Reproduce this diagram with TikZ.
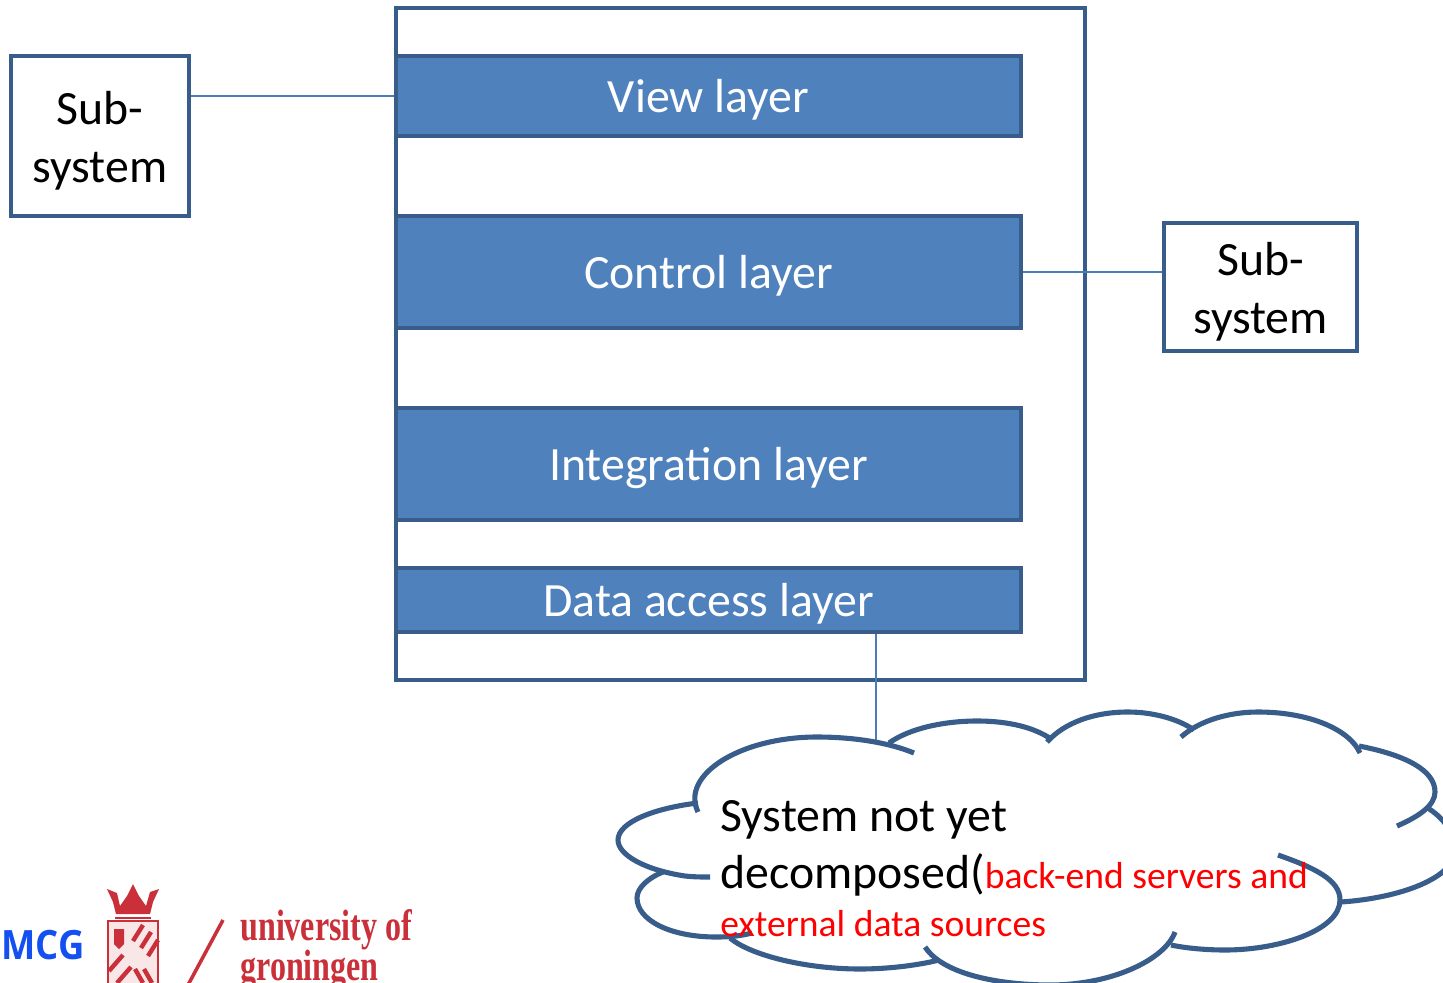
\documentclass[tikz,border=0pt]{standalone}
\usepackage{fontspec}
\setmainfont{Carlito}
\newfontfamily\logofont[FakeStretch=0.73]{Liberation Serif}
\newfontfamily\mcgfont[FakeStretch=0.9]{Open Sans}
\definecolor{layerfill}{HTML}{4F81BD}
\definecolor{layerline}{HTML}{385D8A}
\definecolor{thinline}{HTML}{4A7EBB}
\definecolor{rugred}{HTML}{C9303A}
\definecolor{mcgblue}{HTML}{1450F0}
\newcommand{\subtext}{\rule{0pt}{24.5pt}Sub-\\system}
\tikzset{
	layerbox/.style={draw=layerline,fill=layerfill,line width=2.3pt,text=white,minimum width=12.5cm,inner sep=0pt,text height=23pt,text depth=3.8pt,font=\fontsize{27.2}{30}\selectfont},
	subbox/.style={draw=layerline,line width=2.3pt,fill=white,inner sep=0pt,align=center,font=\fontsize{27.2}{33}\selectfont},
	link/.style={draw=thinline,line width=0.8pt},
	cloudline/.style={draw=layerline,line width=2.9pt},
	redpart/.style={rugred,line width=1pt},
	stripe/.style={rugred,line width=2.5pt}
}
\begin{document}
\begin{tikzpicture}[x=0.02cm,y=-0.02cm]

\clip (0,0) rectangle (1443,983);

\draw [draw=layerline,line width=2.3pt] (396,8) rectangle (1085,680);

\node [layerbox,minimum height=1.6cm] (view) at (708.5,96) {View layer};
\node [layerbox,minimum height=2.24cm] (control) at (708.5,272) {Control layer};
\node [layerbox,minimum height=2.24cm] (integration) at (708.5,464) {Integration layer};
\node [layerbox,minimum height=1.28cm] (data) at (708.5,600) {Data access layer};

\node [subbox,minimum width=3.56cm,minimum height=3.2cm] (subleft) at (100,136) {\subtext};
\node [subbox,minimum width=3.86cm,minimum height=2.56cm] (subright) at (1260.5,287) {\subtext};

\coordinate (cloudtop) at (876,741);
\draw [link] (view.west) -- (view.west -| subleft.east);
\draw [link] (control.east) -- (control.east -| subright.west);
\draw [link] (data.south -| cloudtop) -- (cloudtop);

% cloud
\draw [cloudline] (698,812) .. controls (680,775) and (740,737) .. (817,737) .. controls (855,737) and (890,743) .. (914,753);
\draw [cloudline] (889,743) .. controls (910,728) and (945,721) .. (977,721) .. controls (1010,721) and (1035,728) .. (1051,739);
\draw [cloudline] (1047,742) .. controls (1065,722) and (1095,712) .. (1128,712) .. controls (1155,712) and (1180,720) .. (1194,730);
\draw [cloudline] (1181,737) .. controls (1200,720) and (1230,712) .. (1258,712) .. controls (1310,712) and (1350,730) .. (1360,753);
\draw [cloudline] (1359,746) .. controls (1405,755) and (1435,770) .. (1435,792) .. controls (1435,805) and (1420,816) .. (1397,826);
\draw [cloudline] (1426,807) .. controls (1445,818) and (1455,835) .. (1455,850) .. controls (1455,878) and (1400,898) .. (1341,902);
\draw [cloudline] (1278,855) .. controls (1315,868) and (1340,880) .. (1340,900) .. controls (1340,930) and (1280,950) .. (1225,950) .. controls (1205,950) and (1185,948) .. (1171,945);
\draw [cloudline] (1175,932) .. controls (1165,960) and (1110,986) .. (1046,985) .. controls (985,984) and (940,970) .. (925,947);
\draw [cloudline] (939,960) .. controls (915,966) and (885,969) .. (860,969) .. controls (805,969) and (750,955) .. (730,938);
\draw [cloudline] (752,933) .. controls (740,936) and (730,937) .. (716,937) .. controls (670,937) and (637,920) .. (637,898) .. controls (637,888) and (648,878) .. (663,872);
\draw [cloudline] (710,877) .. controls (700,877) and (695,877) .. (685,876) .. controls (645,870) and (618,855) .. (618,840) .. controls (618,822) and (655,808) .. (698,803);

\node [inner sep=0pt,anchor=north west,align=left,font=\fontsize{27.2}{32.5}\selectfont] (cloudtext) at (720,800)
	{System not yet\\
	decomposed({\fontsize{21.4}{27}\selectfont\color{red}back-end servers and}\\[-5pt]
	{\fontsize{21.4}{27}\selectfont\color{red}external data sources}};

% logos
\node [inner sep=0pt,anchor=east,text=mcgblue,font=\mcgfont\bfseries\fontsize{23}{23}\selectfont] (umcg) at (85,945) {UMCG};
\node [inner sep=0pt,anchor=north west,align=left,text=rugred,font=\logofont\bfseries\fontsize{25}{23}\selectfont] (rug) at (240,909) {university of\\groningen};
\draw [rugred,line width=2pt] (223,920) -- (188,985);

% crest
\fill [rugred] (107,889) -- (117,893) -- (120,906) -- (127,896) -- (133,884) -- (139,896) -- (146,906) -- (150,892) -- (159,889) -- (153,902) -- (150,914) -- (116,914) -- (113,902) -- cycle;
\draw [rugred,line width=1.5pt] (115,918) -- (151,918);
\fill [rugred!12] (108,921) rectangle (158,983);
\draw [redpart] (108,983) -- (108,921) -- (158,921) -- (158,983);
\foreach \x/\y in {133/941,141/948,148/956} {
	\draw [stripe] (\x,\y) -- (\x+10,\y-16);
}
\foreach \x/\y in {109/971,117/983} {
	\draw [stripe] (\x,\y) -- (\x+14,\y-16);
}
\foreach \x/\y in {143/983,152/983} {
	\draw [stripe] (\x,\y) -- (\x-8,\y-14);
}
\fill [rugred] (114,929) -- (124,929) -- (124,944) -- (119,949) -- (114,944) -- cycle;

\end{tikzpicture}
\end{document}
